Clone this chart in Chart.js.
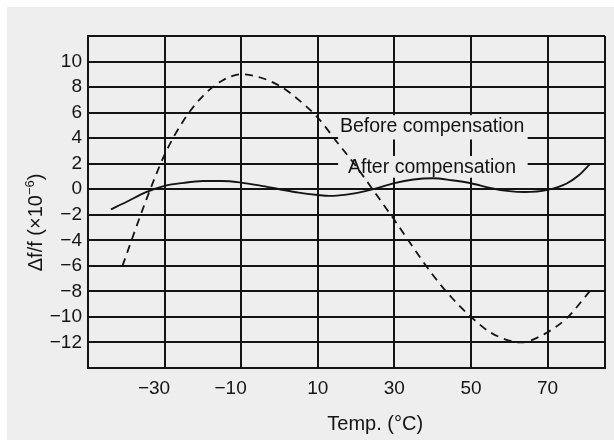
<!DOCTYPE html>
<html>
<head>
<meta charset="utf-8">
<script src="https://cdn.jsdelivr.net/npm/chart.js@4.4.1/dist/chart.umd.min.js"></script>
<style>
  html, body { margin: 0; padding: 0; background: #ffffff; }
  #wrap { width: 614px; height: 441px; }
</style>
</head>
<body>
<div id="wrap"><canvas id="chart" width="614" height="441"></canvas></div>
<script>
// temperature (°C) and Δf/f (x10^-6)
var tempBefore = [-41, -35, -30, -25, -20, -15, -10, -5, 0, 5, 10, 15, 20, 25, 30, 35, 40, 45, 50, 55, 60, 63, 65, 70, 75, 81];
var before = [-6.0, -1.0, 2.7, 5.4, 7.3, 8.5, 9.0, 8.75, 8.1, 7.0, 5.6, 3.7, 1.8, -0.3, -2.4, -4.6, -6.7, -8.5, -10.0, -11.2, -11.85, -12.0, -11.9, -11.2, -10.1, -8.0];

var tempAfter = [-44, -40, -35, -30, -25, -20, -15, -10, -5, 0, 5, 10, 13, 15, 20, 25, 30, 35, 40, 45, 50, 55, 60, 64, 70, 75, 78, 81];
var after = [-1.57, -1.0, -0.25, 0.26, 0.5, 0.64, 0.65, 0.52, 0.28, 0.0, -0.27, -0.45, -0.52, -0.5, -0.3, 0.05, 0.48, 0.76, 0.86, 0.7, 0.47, 0.1, -0.15, -0.22, -0.05, 0.45, 1.05, 1.95];

var xTickValues = [-30, -10, 10, 30, 50, 70];
var xTickLabels = ['\u221230', '\u221210', '10', '30', '50', '70'];
var yTickValues = [10, 8, 6, 4, 2, 0, -2, -4, -6, -8, -10, -12];
var yTickLabels = ['10', '8', '6', '4', '2', '0', '\u22122', '\u22124', '\u22126', '\u22128', '\u221210', '\u221212'];

var curveLabels = ['Before compensation', 'After compensation'];
var xTitle = 'Temp. (\u00b0C)';

var FONT = '"Liberation Sans", Arial, Helvetica, sans-serif';
var INK = '#141414';
var PANEL = '#eeeeee';

function toPoints(xs, ys) {
    var pts = [];
    for (var i = 0; i < xs.length; i++) pts.push({ x: xs[i], y: ys[i] });
    return pts;
}

var panelPlugin = {
    id: 'panel',
    beforeDraw: function (chart) {
        var ctx = chart.ctx;
        ctx.save();
        ctx.fillStyle = '#ffffff';
        ctx.fillRect(0, 0, chart.width, chart.height);
        ctx.fillStyle = PANEL;
        ctx.fillRect(7, 7, chart.width - 7, chart.height - 8);
        ctx.restore();
    }
};

// boxes behind the curve names, they hide the grid there
var labelPlugin = {
    id: 'curveLabels',
    beforeDatasetsDraw: function (chart) {
        var ctx = chart.ctx;
        var xs = chart.scales.x, ys = chart.scales.y;
        var l = xs.getPixelForValue(15.3), r = xs.getPixelForValue(64.8);
        var t = ys.getPixelForValue(5.8), b = ys.getPixelForValue(0.9);
        ctx.save();
        ctx.fillStyle = PANEL;
        ctx.fillRect(l, t, r - l, b - t);
        // bits of the 30 and 50 lines that show between the names
        ctx.strokeStyle = INK;
        ctx.lineWidth = 2;
        [30, 50].forEach(function (v) {
            var px = Math.round(xs.getPixelForValue(v));
            ctx.beginPath();
            ctx.moveTo(px, ys.getPixelForValue(3.9));
            ctx.lineTo(px, ys.getPixelForValue(2.6));
            ctx.stroke();
        });
        ctx.fillStyle = INK;
        ctx.font = '19.5px ' + FONT;
        ctx.textAlign = 'left';
        ctx.textBaseline = 'alphabetic';
        ctx.fillText(curveLabels[0], xs.getPixelForValue(15.8), ys.getPixelForValue(4.45));
        ctx.fillText(curveLabels[1], xs.getPixelForValue(17.9), ys.getPixelForValue(1.28));
        ctx.restore();
    }
};

var titlePlugin = {
    id: 'axisTitles',
    afterDraw: function (chart) {
        var ctx = chart.ctx;
        var xs = chart.scales.x, ys = chart.scales.y;
        ctx.save();
        ctx.fillStyle = INK;
        ctx.font = '20px ' + FONT;
        ctx.textAlign = 'center';
        ctx.textBaseline = 'alphabetic';
        ctx.fillText(xTitle, xs.getPixelForValue(25), 430);

        // y title with a raised exponent
        var main = '\u0394f/f (\u00d710', sup = '\u22126', tail = ')';
        ctx.font = '20px ' + FONT;
        var w1 = ctx.measureText(main).width, w3 = ctx.measureText(tail).width;
        ctx.font = '13px ' + FONT;
        var w2 = ctx.measureText(sup).width;
        var total = w1 + w2 + w3;
        ctx.translate(42, ys.getPixelForValue(-2.6));
        ctx.rotate(-Math.PI / 2);
        ctx.textAlign = 'left';
        var x0 = -total / 2;
        ctx.font = '20px ' + FONT;
        ctx.fillText(main, x0, 0);
        ctx.font = '13px ' + FONT;
        ctx.fillText(sup, x0 + w1, -8);
        ctx.font = '20px ' + FONT;
        ctx.fillText(tail, x0 + w1 + w2, 0);
        ctx.restore();
    }
};

var gridOpts = { color: INK, lineWidth: 2, drawTicks: false };
var borderOpts = { display: true, color: INK, width: 2 };

new Chart(document.getElementById('chart'), {
    type: 'line',
    data: {
        datasets: [{
            label: curveLabels[0],
            data: toPoints(tempBefore, before),
            borderColor: INK,
            borderWidth: 1.8,
            borderDash: [8, 6],
            pointRadius: 0,
            fill: false,
            cubicInterpolationMode: 'monotone'
        }, {
            label: curveLabels[1],
            data: toPoints(tempAfter, after),
            borderColor: INK,
            borderWidth: 1.9,
            pointRadius: 0,
            fill: false,
            cubicInterpolationMode: 'monotone'
        }]
    },
    options: {
        responsive: false,
        animation: false,
        layout: { padding: { top: 36, right: 8, left: 0, bottom: 0 } },
        plugins: { legend: { display: false }, tooltip: { enabled: false } },
        scales: {
            x: {
                type: 'linear',
                min: -50,
                max: 85,
                grid: gridOpts,
                border: borderOpts,
                afterBuildTicks: function (s) {
                    s.ticks = [-50].concat(xTickValues, [85]).map(function (v) { return { value: v }; });
                },
                afterFit: function (s) { s.height = 73; },
                ticks: {
                    padding: 9,
                    maxRotation: 0,
                    autoSkip: false,
                    color: INK,
                    font: { family: FONT, size: 19 },
                    callback: function (value) {
                        var i = xTickValues.indexOf(value);
                        if (i < 0) return '';
                        return xTickLabels[i] + (value < 0 ? '    ' : '');
                    }
                }
            },
            y: {
                type: 'linear',
                min: -14,
                max: 12,
                grid: gridOpts,
                border: borderOpts,
                afterBuildTicks: function (s) {
                    s.ticks = [12].concat(yTickValues, [-14]).map(function (v) { return { value: v }; });
                },
                afterFit: function (s) { s.width = 88; },
                ticks: {
                    padding: 6,
                    autoSkip: false,
                    color: INK,
                    font: { family: FONT, size: 19 },
                    callback: function (value) {
                        var i = yTickValues.indexOf(value);
                        return i < 0 ? '' : yTickLabels[i];
                    }
                }
            }
        }
    },
    plugins: [panelPlugin, labelPlugin, titlePlugin]
});
</script>
</body>
</html>
